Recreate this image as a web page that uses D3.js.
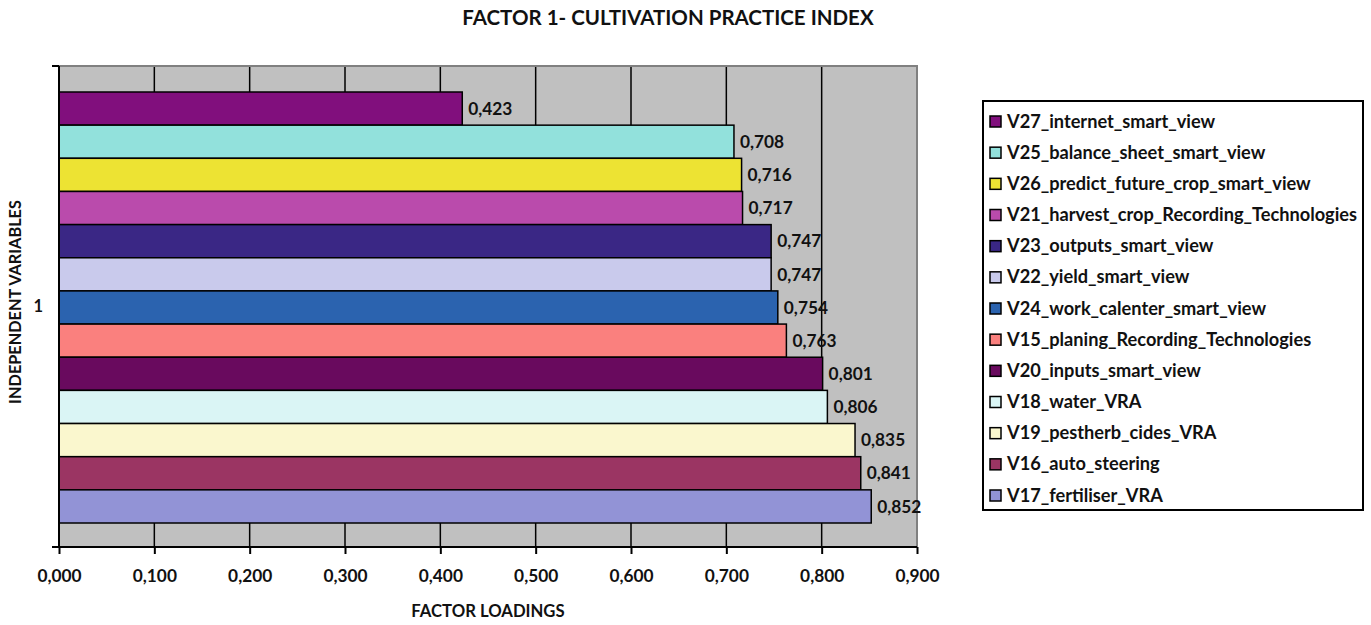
<!DOCTYPE html>
<html>
<head>
<meta charset="utf-8">
<script src="https://cdn.jsdelivr.net/npm/d3@7"></script>
<style>
  body { margin: 0; background: #fff; }
  text { font-family: Lato, "Open Sans", sans-serif; font-weight: bold; fill: #111; }
</style>
</head>
<body>
<div id="chart"></div>
<script>
// series, top to bottom as drawn
const names = [
    "V27_internet_smart_view",
    "V25_balance_sheet_smart_view",
    "V26_predict_future_crop_smart_view",
    "V21_harvest_crop_Recording_Technologies",
    "V23_outputs_smart_view",
    "V22_yield_smart_view",
    "V24_work_calenter_smart_view",
    "V15_planing_Recording_Technologies",
    "V20_inputs_smart_view",
    "V18_water_VRA",
    "V19_pestherb_cides_VRA",
    "V16_auto_steering",
    "V17_fertiliser_VRA"
]
const loadings = [0.423, 0.708, 0.716, 0.717, 0.747, 0.747, 0.754, 0.763, 0.801, 0.806, 0.835, 0.841, 0.852]
const colors = ["#810F7D", "#92E1DC", "#EDE333", "#BA4BAC", "#3A2785", "#C9CAEC", "#2B63AF",
    "#FA807E", "#690A5E", "#DAF5F5", "#FAF7CE", "#9B3563", "#9293D6"]
const xTicks = [0, 0.1, 0.2, 0.3, 0.4, 0.5, 0.6, 0.7, 0.8, 0.9]
const category = "1"

const W = 1371, H = 625
let margin = { top: 66, right: 454, bottom: 78, left: 59 },
    width = W - margin.left - margin.right,
    height = H - margin.top - margin.bottom

const fmt = v => d3.format(".3f")(v).replace(".", ",")

let svg = d3.select("#chart").append("svg")
    .attr("width", W).attr("height", H)

// title
svg.append("text")
    .attr("x", 668).attr("y", 25)
    .attr("text-anchor", "middle")
    .attr("font-size", 20.5)
    .text("FACTOR 1- CULTIVATION PRACTICE INDEX")

let g = svg.append("g")
    .attr("transform", "translate(" + margin.left + "," + margin.top + ")")

let x = d3.scaleLinear().domain([0, 0.9]).range([0, width])
let y = d3.scaleBand().domain(names).range([26, height - 24])

// plot background
g.append("rect")
    .attr("width", width).attr("height", height)
    .attr("fill", "#C0C0C0")

// vertical grid lines
g.append("g")
    .selectAll("line")
    .data(xTicks.slice(1, -1))
    .enter().append("line")
    .attr("x1", d => x(d)).attr("x2", d => x(d))
    .attr("y1", 0).attr("y2", height)
    .attr("stroke", "#000").attr("stroke-width", 1.5)

// top and right border
g.append("path")
    .attr("d", "M0,0H" + width + "V" + height)
    .attr("fill", "none").attr("stroke", "#808080").attr("stroke-width", 2)

// bars
g.append("g")
    .selectAll("rect")
    .data(names)
    .enter().append("rect")
    .attr("x", x(0))
    .attr("y", d => y(d))
    .attr("width", (d, i) => x(loadings[i]) - x(0))
    .attr("height", y.bandwidth())
    .attr("fill", (d, i) => colors[i])
    .attr("stroke", "#000").attr("stroke-width", 1.5)

// value labels
g.append("g")
    .selectAll("text")
    .data(names)
    .enter().append("text")
    .attr("x", (d, i) => x(loadings[i]) + 6)
    .attr("y", d => y(d) + y.bandwidth() / 2)
    .attr("dy", "0.36em")
    .attr("font-size", 17.3)
    .text((d, i) => fmt(loadings[i]))

// x-axis
g.append("g")
    .attr("transform", "translate(0," + height + ")")
    .call(d3.axisBottom(x).tickValues(xTicks).tickFormat(fmt).tickSize(7).tickPadding(16))
    .call(a => {
        a.select(".domain").attr("stroke", "#000").attr("stroke-width", 2)
            .attr("d", "M0,0H" + width)
        a.selectAll(".tick line").attr("stroke", "#000").attr("stroke-width", 2)
        a.selectAll(".tick text").attr("font-size", 17.3).attr("font-family", null)
            .attr("fill", "#111")
    })

// y-axis (single category)
let ycat = d3.scaleBand().domain([category]).range([0, height])
g.append("g")
    .call(d3.axisLeft(ycat).tickSize(0).tickPadding(16))
    .call(a => {
        a.select(".domain").attr("stroke", "#000").attr("stroke-width", 2)
            .attr("d", "M0,0V" + height)
        a.selectAll(".tick text").attr("font-size", 16.5).attr("font-family", null)
            .attr("fill", "#111")
    })
g.append("g")
    .selectAll("line")
    .data([0, height])
    .enter().append("line")
    .attr("x1", -7).attr("x2", 0)
    .attr("y1", d => d).attr("y2", d => d)
    .attr("stroke", "#000").attr("stroke-width", 2)

// axis titles
svg.append("text")
    .attr("x", 488).attr("y", 617)
    .attr("text-anchor", "middle")
    .attr("font-size", 16.7)
    .text("FACTOR LOADINGS")

svg.append("text")
    .attr("transform", "translate(21,302) rotate(-90)")
    .attr("text-anchor", "middle")
    .attr("font-size", 16.3)
    .text("INDEPENDENT VARIABLES")

// legend
let legend = svg.append("g").attr("transform", "translate(983,101)")
legend.append("rect")
    .attr("width", 380).attr("height", 409)
    .attr("fill", "#fff").attr("stroke", "#000").attr("stroke-width", 2)

let ly = d3.scalePoint().domain(names).range([20, 394])

let items = legend.selectAll(".item")
    .data(names)
    .enter().append("g").attr("class", "item")
    .attr("transform", d => "translate(0," + ly(d) + ")")
items.append("rect")
    .attr("x", 7).attr("y", -5)
    .attr("width", 11).attr("height", 11)
    .attr("fill", (d, i) => colors[i])
    .attr("stroke", "#000").attr("stroke-width", 1.5)
items.append("text")
    .attr("x", 24).attr("dy", "0.36em")
    .attr("font-size", 18.2)
    .text(d => d)
</script>
</body>
</html>
